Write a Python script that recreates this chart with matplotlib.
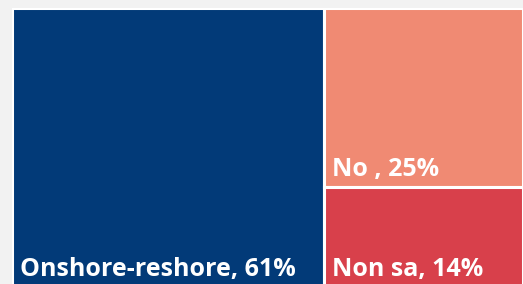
import matplotlib
matplotlib.use("Agg")
import matplotlib.pyplot as plt
from matplotlib.patches import Rectangle
from matplotlib.transforms import offset_copy

categories = ["Onshore-reshore", "No ", "Non sa"]
values = [61, 25, 14]
colors = ["#023A78", "#F08A73", "#D8404B"]
labels = [f"{c}, {v}%" for c, v in zip(categories, values)]

W, H = 523, 284
fig = plt.figure(figsize=(W/100, H/100), dpi=100)
fig.patch.set_facecolor("#F2F2F2")
ax = fig.add_axes([12/W, (284-287)/H, 511/W, 279/H])
ax.set_xlim(0, 100)
ax.set_ylim(0, 100)
ax.axis("off")

total = sum(values)
w0 = 100 * values[0] / total
rects = [(0, 0, w0, 100)]
rest = sum(values[1:])
y_top = 100
for v in values[1:]:
    h = 100 * v / rest
    rects.append((w0, y_top - h, 100 - w0, h))
    y_top -= h

for (x, y, w, h), col, lab in zip(rects, colors, labels):
    ax.add_patch(Rectangle((x, y), w, h, facecolor=col, edgecolor="white", linewidth=2.2))
    tr = offset_copy(ax.transData, fig=fig, x=8, y=5, units="dots")
    ax.text(x, y, lab, transform=tr, color="white", fontsize=18,
            fontweight="bold", family=["Open Sans", "DejaVu Sans"], ha="left", va="bottom")

fig.savefig("out.png", dpi=100, facecolor=fig.get_facecolor())
